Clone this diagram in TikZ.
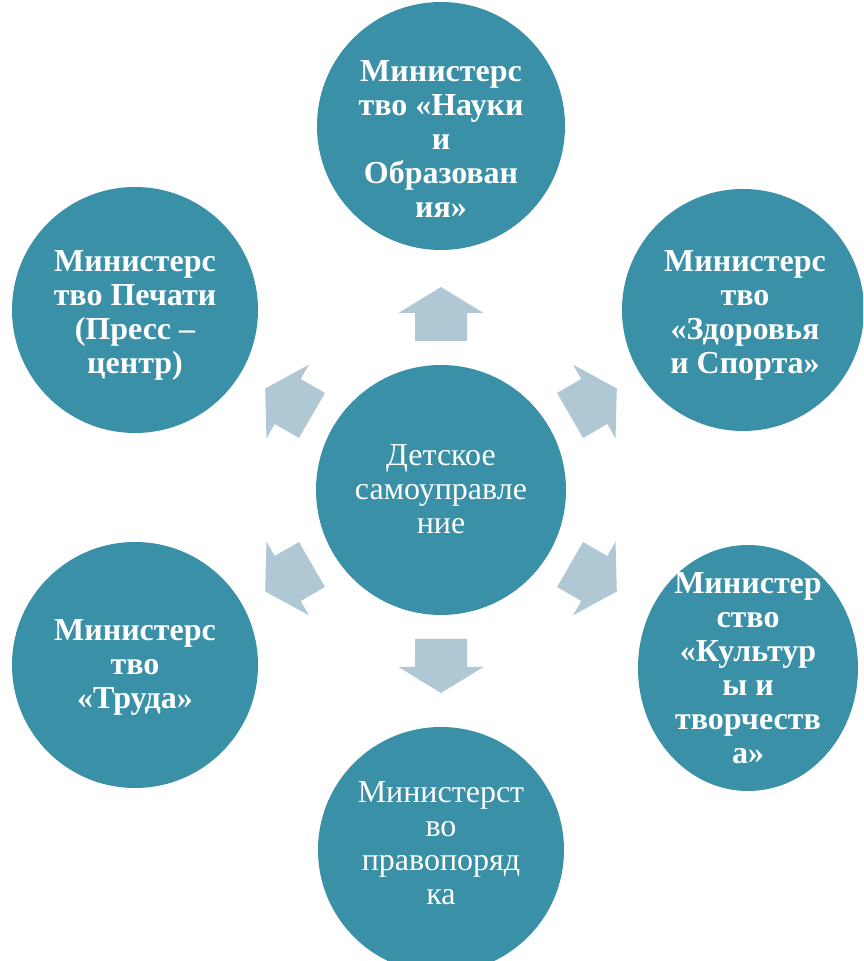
\documentclass[tikz,border=0pt]{standalone}
\usepackage{fontspec}
\setmainfont{Liberation Serif}
\definecolor{teal1}{HTML}{3A90A6}
\definecolor{arrowc}{HTML}{B0C8D3}
\tikzset{
  circ/.style={fill=teal1, draw=none},
  lbl/.style={text=white, align=center, font=\bfseries\fontsize{32}{34}\selectfont, inner sep=0pt},
  lblr/.style={text=white, align=center, font=\fontsize{32}{34}\selectfont, inner sep=0pt},
  blockarrow/.style={fill=arrowc, draw=none}
}
\begin{document}
\begin{tikzpicture}[x=1pt,y=1pt]
\useasboundingbox (0,0) rectangle (863,961);
\clip (0,0) rectangle (863,961);
% circles
\coordinate (ctr) at (441,471);
\fill[circ] (ctr) circle (125);
\fill[circ] (441,835) circle (124);
\fill[circ] (743,651) circle (121);
\fill[circ] (748,293) ellipse [x radius=110, y radius=123];
\fill[circ] (441,111) circle (123);
\fill[circ] (135,296) circle (123);
\fill[circ] (135,651) circle (123);
% arrows
\foreach \a in {90,30,-30,-90,-150,150}{
  \fill[blockarrow, shift={(ctr)}, rotate=\a]
    (149,-26) -- (177,-26) -- (177,-42.5) -- (203,0) -- (177,42.5) -- (177,26) -- (149,26) -- cycle;
}
% labels
\node[lblr] (nctr) at (441,472) {Детское\\самоуправле\\ние};
\node[lbl] (ntop) at (441,822) {Министерс\\тво «Науки\\и\\Образован\\ия»};
\node[lbl] (nur) at (745,646) {Министерс\\тво\\«Здоровья\\и Спорта»};
\node[lbl] (nlr) at (748,293) {Министер\\ство\\«Культур\\ы и\\творчеств\\а»};
\node[lblr] (nbot) at (441,118) {Министерст\\во\\правопоряд\\ка};
\node[lbl] (nll) at (135,294) {Министерс\\тво\\«Труда»};
\node[lbl] (nul) at (135,646) {Министерс\\тво Печати\\(Пресс –\\центр)};
\end{tikzpicture}
\end{document}
